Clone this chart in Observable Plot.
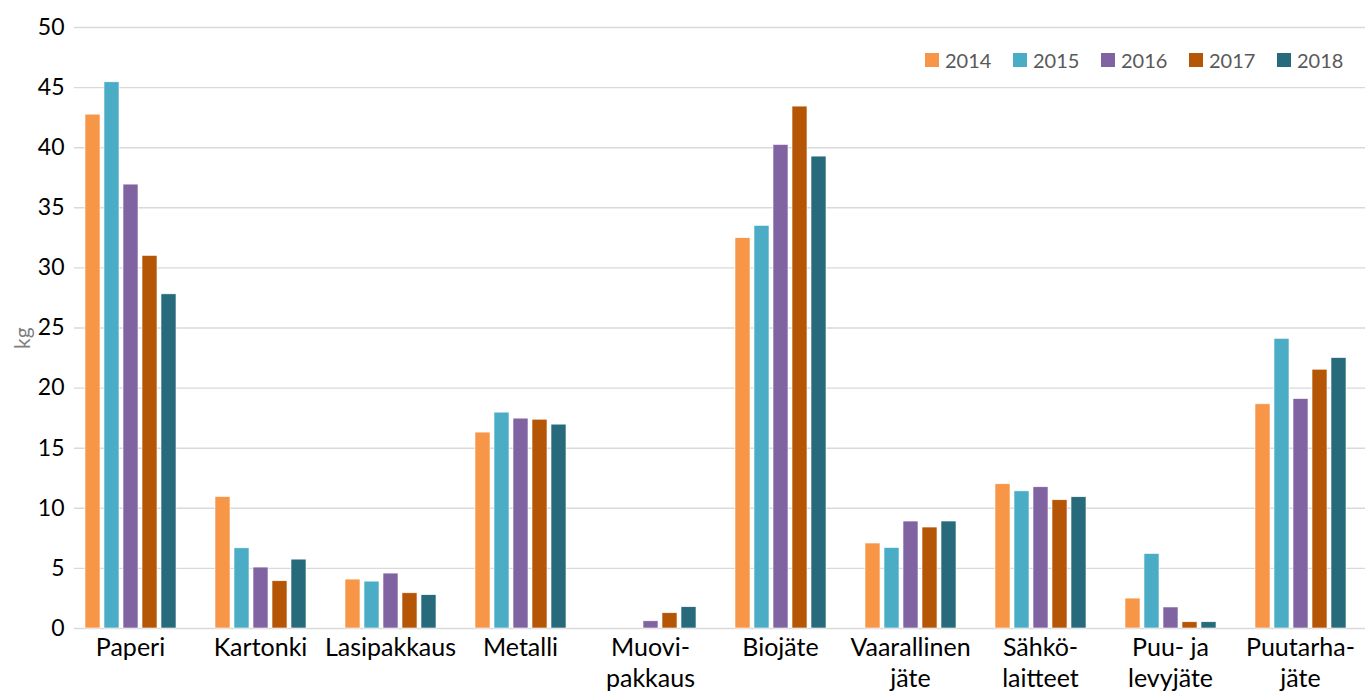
<!DOCTYPE html>
<html>
<head>
<meta charset="utf-8">
<script src="https://cdn.jsdelivr.net/npm/d3@7"></script>
<script src="https://cdn.jsdelivr.net/npm/@observablehq/plot@0.6"></script>
<style>
  html, body { margin: 0; padding: 0; background: #fff; }
  #wrap { position: relative; width: 1365px; height: 691px; overflow: hidden; font-family: Lato, "Open Sans", sans-serif; }
  #legend { position: absolute; top: 48px; left: 925px; display: flex; align-items: center; }
  .item { display: flex; align-items: center; width: 88px; font-size: 20px; color: #595959; }
  .sw { width: 14px; height: 14px; margin-right: 6px; flex: none; }
</style>
</head>
<body>
<div id="wrap"><div id="chart"></div><div id="legend"></div></div>
<script>
const categories = ["Paperi", "Kartonki", "Lasipakkaus", "Metalli", "Muovipakkaus", "Biojäte", "Vaarallinen jäte", "Sähkölaitteet", "Puu- ja levyjäte", "Puutarhajäte"];
const categoryLabels = ["Paperi", "Kartonki", "Lasipakkaus", "Metalli", "Muovi-\npakkaus", "Biojäte", "Vaarallinen\njäte", "Sähkö-\nlaitteet", "Puu- ja\nlevyjäte", "Puutarha-\njäte"];
const years = ["2014", "2015", "2016", "2017", "2018"];
const colors = ["#f79646", "#4bacc6", "#8064a2", "#b55606", "#266a7b"];
const v2014 = [42.75, 10.94, 4.07, 16.3, null, 32.47, 7.07, 12.0, 2.49, 18.65];
const v2015 = [45.44, 6.67, 3.9, 17.96, null, 33.5, 6.7, 11.41, 6.2, 24.1];
const v2016 = [36.93, 5.07, 4.57, 17.46, 0.6, 40.23, 8.9, 11.75, 1.75, 19.09];
const v2017 = [31.0, 3.93, 2.93, 17.37, 1.27, 43.42, 8.4, 10.67, 0.52, 21.53];
const v2018 = [27.8, 5.73, 2.77, 16.96, 1.77, 39.26, 8.9, 10.92, 0.52, 22.5];
const yTicks = [0, 5, 10, 15, 20, 25, 30, 35, 40, 45, 50];
const yLabel = "kg";

const series = [v2014, v2015, v2016, v2017, v2018];
const data = [];
categories.forEach((c, i) => years.forEach((y, j) => {
  if (series[j][i] != null) data.push({cat: c, year: y, value: series[j][i]});
}));
const labelOf = new Map(categories.map((c, i) => [c, categoryLabels[i]]));
const grid = categories.flatMap(c => yTicks.map(t => ({cat: c, v: t})));
const gridFirst = grid.filter(d => d.cat === categories[0]);
const gridRest = grid.filter(d => d.cat !== categories[0]);

const chart = Plot.plot({
  width: 1365,
  height: 691,
  marginLeft: 64,
  marginRight: 0,
  marginTop: 27,
  marginBottom: 63,
  style: {fontFamily: "Lato, 'Open Sans', sans-serif", background: "transparent", overflow: "visible"},
  fx: {domain: categories, paddingInner: 0, paddingOuter: 0, label: null, axis: null},
  x: {domain: years, paddingInner: 0.22, paddingOuter: 0.89, axis: null},
  y: {domain: [0, 50], label: null, axis: null},
  color: {domain: years, range: colors},
  marks: [
    Plot.ruleY(gridFirst, {fx: "cat", y: "v", stroke: "#d9d9d9", strokeWidth: 1.4, insetLeft: 9}),
    Plot.ruleY(gridRest, {fx: "cat", y: "v", stroke: "#d9d9d9", strokeWidth: 1.4}),
    Plot.barY(data, {fx: "cat", x: "year", y: "value", fill: "year", stroke: "white", strokeWidth: 0.6}),
    Plot.axisY({ticks: yTicks, tickSize: 0, tickPadding: 1, fontSize: 23, fill: "#000", label: null}),
    Plot.axisFx({anchor: "bottom", tickSize: 0, tickPadding: 5, tickFormat: c => labelOf.get(c), fontSize: 25, lineHeight: 1.25, fill: "#000", label: null}),
    Plot.text([yLabel], {fx: () => categories[0], frameAnchor: "left", dx: -42, dy: 21, rotate: -90, fill: "#7f7f7f", fontSize: 21, text: d => d})
  ]
});
document.getElementById("chart").appendChild(chart);

const legend = document.getElementById("legend");
years.forEach((y, i) => {
  const item = document.createElement("div");
  item.className = "item";
  const sw = document.createElement("span");
  sw.className = "sw";
  sw.style.background = colors[i];
  const t = document.createElement("span");
  t.textContent = y;
  item.appendChild(sw);
  item.appendChild(t);
  legend.appendChild(item);
});
</script>
</body>
</html>
